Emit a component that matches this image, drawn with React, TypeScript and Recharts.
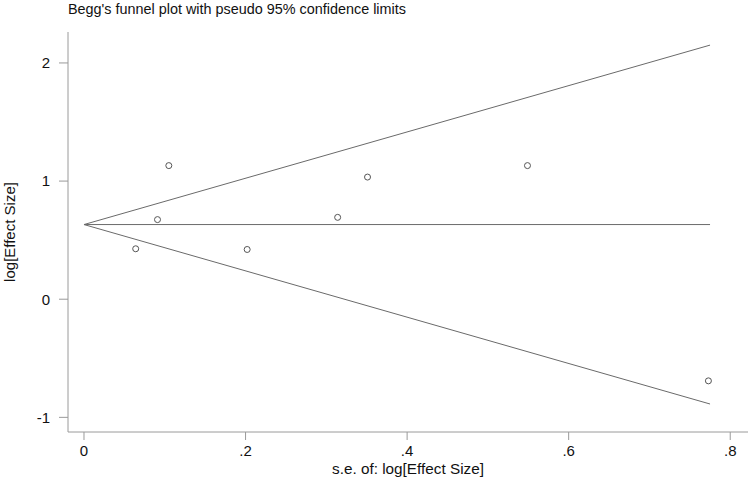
import {
  ComposedChart,
  Scatter,
  XAxis,
  YAxis,
} from "recharts";

// study points: standard error vs log effect size
const seValues = [0.064, 0.091, 0.105, 0.202, 0.314, 0.351, 0.549, 0.773];
const logEffects = [0.427, 0.674, 1.131, 0.421, 0.693, 1.034, 1.131, -0.691];

const pooledEstimate = 0.632;
const seMax = 0.775;
const zCrit = 1.96;

const xTicks = [0, 0.2, 0.4, 0.6, 0.8];
const yTicks = [-1, 0, 1, 2];

const points = seValues.map((se, i) => ({ x: se, y: logEffects[i] }));

const upperLimit = [
  { x: 0, y: pooledEstimate },
  { x: seMax, y: pooledEstimate + zCrit * seMax },
];
const lowerLimit = [
  { x: 0, y: pooledEstimate },
  { x: seMax, y: pooledEstimate - zCrit * seMax },
];
const centerLine = [
  { x: 0, y: pooledEstimate },
  { x: seMax, y: pooledEstimate },
];

const FONT = "Arial, 'Liberation Sans', sans-serif";
const AXIS = "#9a9a9a";
const LINE = "#6a6a6a";

const fmtX = (v: number) => (v === 0 ? "0" : String(v).replace(/^0/, ""));

const noDot = () => null;

export default function App() {
  return (
    <div
      style={{
        position: "absolute",
        left: 0,
        top: 0,
        width: 748,
        height: 478,
        background: "#fff",
        fontFamily: FONT,
      }}
    >
      <div
        style={{
          position: "absolute",
          left: 68,
          top: 1,
          fontSize: 14.4,
          color: "#111",
          whiteSpace: "nowrap",
        }}
      >
        Begg's funnel plot with pseudo 95% confidence limits
      </div>
      <ComposedChart
        width={748}
        height={478}
        margin={{ top: 32, right: 0, bottom: 0, left: 8 }}
      >
        <XAxis
          type="number"
          dataKey="x"
          domain={[-0.0198, 0.822]}
          ticks={xTicks}
          tickFormatter={fmtX}
          allowDataOverflow
          height={46}
          stroke={AXIS}
          tickSize={8}
          tickMargin={5}
          tick={{ fill: "#111", fontSize: 15, fontFamily: FONT }}
          label={{
            value: "s.e. of: log[Effect Size]",
            position: "insideBottom",
            offset: 4,
            fill: "#111",
            fontSize: 15.3,
            fontFamily: FONT,
          }}
        />
        <YAxis
          type="number"
          dataKey="y"
          domain={[-1.124, 2.262]}
          ticks={yTicks}
          allowDataOverflow
          width={60}
          stroke={AXIS}
          tickSize={9}
          tickMargin={9}
          tick={{ fill: "#111", fontSize: 15, fontFamily: FONT }}
          label={{
            value: "log[Effect Size]",
            angle: -90,
            position: "insideLeft",
            offset: 2,
            style: { textAnchor: "middle" },
            fill: "#111",
            fontSize: 15,
            fontFamily: FONT,
          }}
        />
        <Scatter
          data={upperLimit}
          line={{ stroke: LINE, strokeWidth: 1 }}
          shape={noDot}
          isAnimationActive={false}
        />
        <Scatter
          data={lowerLimit}
          line={{ stroke: LINE, strokeWidth: 1 }}
          shape={noDot}
          isAnimationActive={false}
        />
        <Scatter
          data={centerLine}
          line={{ stroke: LINE, strokeWidth: 1 }}
          shape={noDot}
          isAnimationActive={false}
        />
        <Scatter
          data={points}
          isAnimationActive={false}
          shape={(p: any) => (
            <circle
              cx={p.cx}
              cy={p.cy}
              r={3}
              fill="none"
              stroke="#555"
              strokeWidth={1}
            />
          )}
        />
      </ComposedChart>
    </div>
  );
}
